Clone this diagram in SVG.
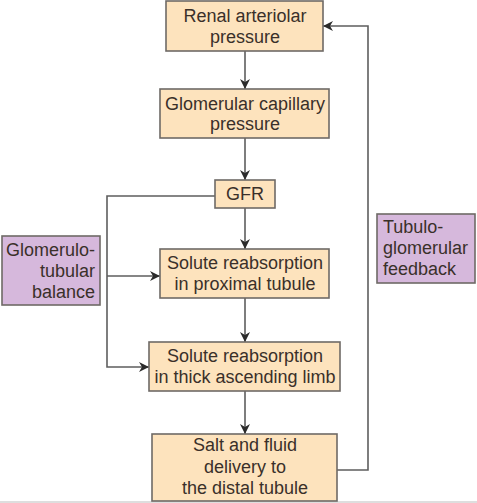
<svg xmlns="http://www.w3.org/2000/svg" width="477" height="503" viewBox="0 0 477 503">
<defs>
<marker id="ah" viewBox="0 0 10 10" refX="10" refY="5" markerWidth="10" markerHeight="10" markerUnits="userSpaceOnUse" orient="auto">
<path d="M0,0 L10,5 L0,10 L3,5 z" fill="#2b2b2b"/>
</marker>
<style>
.box{fill:#fde3bd;stroke:#6e6a66;stroke-width:1.6}
.pur{fill:#d6b8dc;stroke:#6e6a66;stroke-width:1.6}
text{font-family:"Liberation Sans",Arial,sans-serif;font-size:18px;fill:#3a302a}
.c{text-anchor:middle}
.r{text-anchor:end}
.ln{fill:none;stroke:#5e5e5e;stroke-width:1.6}
</style>
</defs>
<rect width="477" height="503" fill="#ffffff"/>
<line x1="0" y1="502" x2="477" y2="502" stroke="#bdbdbd" stroke-width="1"/>
<g id="connectors">
<line class="ln" x1="245" y1="51" x2="245" y2="89" marker-end="url(#ah)"/>
<line class="ln" x1="245" y1="138" x2="245" y2="180" marker-end="url(#ah)"/>
<line class="ln" x1="245" y1="208" x2="245" y2="249" marker-end="url(#ah)"/>
<line class="ln" x1="245" y1="298" x2="245" y2="342" marker-end="url(#ah)"/>
<line class="ln" x1="245" y1="391" x2="245" y2="434" marker-end="url(#ah)"/>
<polyline class="ln" points="215,196 107,196 107,367 149,367" marker-end="url(#ah)"/>
<line class="ln" x1="107" y1="276" x2="160" y2="276" marker-end="url(#ah)"/>
<polyline class="ln" points="337,470 368,470 368,26 323,26" marker-end="url(#ah)"/>
</g>
<g id="renal">
<rect class="box" x="166" y="1" width="157" height="50"/>
<text class="c" x="245" y="22">Renal arteriolar</text>
<text class="c" x="245" y="43">pressure</text>
</g>
<g id="glomcap">
<rect class="box" x="160" y="89" width="169" height="49"/>
<text class="c" x="245" y="110">Glomerular capillary</text>
<text class="c" x="245" y="130">pressure</text>
</g>
<g id="gfr">
<rect class="box" x="215" y="180" width="60" height="28"/>
<text class="c" x="245" y="200">GFR</text>
</g>
<g id="proximal">
<rect class="box" x="160" y="249" width="169" height="49"/>
<text class="c" x="245" y="269">Solute reabsorption</text>
<text class="c" x="245" y="290">in proximal tubule</text>
</g>
<g id="thick">
<rect class="box" x="149" y="342" width="191" height="49"/>
<text class="c" x="245" y="362">Solute reabsorption</text>
<text class="c" x="245" y="383">in thick ascending limb</text>
</g>
<g id="salt">
<rect class="box" x="152" y="434" width="185" height="67"/>
<text class="c" x="245" y="451">Salt and fluid</text>
<text class="c" x="245" y="473">delivery to</text>
<text class="c" x="245" y="494">the distal tubule</text>
</g>
<g id="gtb">
<rect class="pur" x="2" y="236" width="98" height="69"/>
<text class="r" x="95" y="256">Glomerulo-</text>
<text class="r" x="95" y="277">tubular</text>
<text class="r" x="95" y="298">balance</text>
</g>
<g id="tgf">
<rect class="pur" x="377" y="214" width="98" height="69"/>
<text x="383" y="233">Tubulo-</text>
<text x="383" y="254">glomerular</text>
<text x="383" y="275">feedback</text>
</g>
</svg>
